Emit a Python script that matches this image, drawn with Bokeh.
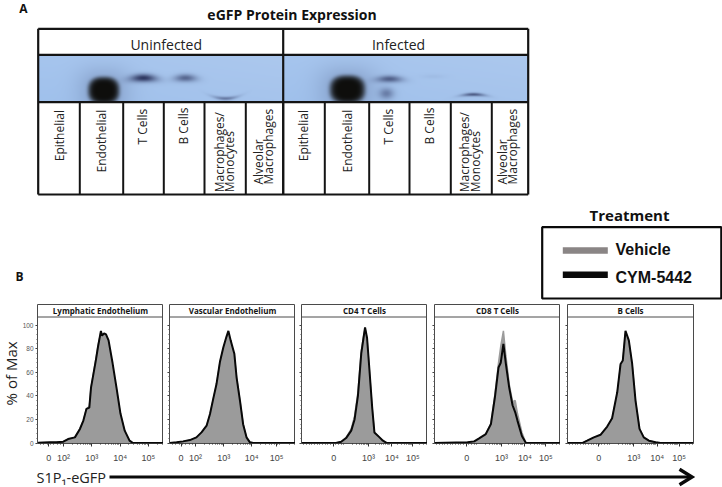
import numpy as np
from bokeh.core.properties import value
from bokeh.embed import file_html
from bokeh.layouts import column, row
from bokeh.models import FixedTicker, Range1d, Span
from bokeh.plotting import figure
from bokeh.resources import INLINE

# ---------------------------------------------------------------- panel A
CHART_TITLE = "eGFP Protein Expression"
GROUPS = ["Uninfected", "Infected"]
LANES = [["Epithelial"], ["Endothelial"], ["T Cells"], ["B Cells"],
         ["Macrophages/", "Monocytes"], ["Alveolar", "Macrophages"]]

# band: centre x, centre y, half width, half height, strength, sharpness, curve
BANDS = [
    (103.3, 90, 15.5, 13.5, 1.00, 7.0, 0.000),
    (143.0, 77.5, 15.5, 4.6, 0.88, 2.0, 0.004),
    (185.0, 77.5, 13.0, 4.4, 0.58, 2.0, 0.004),
    (225.0, 98.0, 14.0, 2.0, 0.48, 2.0, -0.012),
    (347.0, 89, 17.5, 14.0, 1.00, 7.0, 0.000),
    (389.0, 78.5, 15.0, 4.0, 0.62, 2.0, 0.003),
    (386.0, 93.0, 8.5, 6.5, 0.42, 2.0, 0.000),
    (433.0, 76.0, 14.0, 2.5, 0.05, 2.0, 0.000),
    (473.0, 94.0, 13.5, 1.9, 0.68, 2.0, 0.006),
]

# ---------------------------------------------------------------- panel B
PANEL_TITLES = ["Lymphatic Endothelium", "Vascular Endothelium", "CD4 T Cells", "CD8 T Cells", "B Cells"]
Y_TICKS = [0, 20, 40, 60, 80, 100]

LE_X = [1.10, 1.52, 1.75, 1.99, 2.16, 2.40, 2.58, 2.70, 2.81, 2.91, 2.97, 3.14, 3.22, 3.32, 3.36, 3.43, 3.50, 3.59, 3.73, 3.87, 4.01, 4.16, 4.33, 4.43, 5.53]
LE_CYM = [0.3, 0.6, 0.6, 1.1, 3.4, 4.8, 11.9, 19, 29, 30, 47, 70, 82, 95, 91, 93, 92, 87, 68, 47, 25, 10.5, 2, 0.3, 0]
LE_VEH = [0.3, 0.5, 0.6, 1.0, 3.2, 4.6, 12.5, 19, 29, 31, 47, 71, 83, 94, 91, 92, 91, 85, 64, 45, 24, 10, 2, 0.3, 0]

VE_X = [1.09, 1.33, 1.56, 1.80, 2.03, 2.21, 2.39, 2.51, 2.62, 2.74, 2.86, 2.98, 3.09, 3.16, 3.24, 3.37, 3.45, 3.57, 3.68, 3.80, 3.92, 4.04, 5.54]
VE_CYM = [0, 0.6, 1.4, 2.5, 4.8, 9, 14.7, 24.6, 37, 50, 68.6, 81, 90, 95, 87, 75.7, 55.5, 35.8, 16, 4.8, 0.6, 0, 0]
VE_VEH = [0, 0.5, 1.3, 2.4, 4.6, 8.8, 14.5, 24, 36.5, 49.5, 68, 80, 88, 92, 85, 74, 55, 35.5, 16, 4.5, 0.6, 0, 0]

CD4_X = [0, 1.55, 1.78, 2.00, 2.23, 2.38, 2.53, 2.68, 2.78, 2.85, 2.94, 3.05, 3.17, 3.27, 3.50, 3.65, 3.83, 5.65]
CD4_CYM = [0, 0, 1.1, 4.2, 10.5, 20, 40, 76, 89, 98, 89, 61, 30, 9, 4.8, 2, 0, 0]
CD4_VEH = [0, 0, 1.2, 4.6, 12, 23, 43, 78, 90, 97, 88, 60, 29, 9, 4.6, 2, 0, 0]

CD8_X = [0, 1.48, 1.78, 2.00, 2.30, 2.53, 2.71, 2.87, 2.97, 3.09, 3.20, 3.35, 3.50, 3.62, 3.72, 3.92, 4.10, 5.65]
CD8_CYM = [0, 0.6, 1.4, 4, 7.6, 16, 39, 64, 68, 84, 67, 47, 32, 26, 19, 6, 0, 0]
CD8_VEH = [0, 0.5, 1.2, 3.5, 7.4, 17, 41, 68, 82, 95, 74, 50, 35, 36, 25, 9, 0, 0]

B_X = [0, 0.66, 0.88, 1.18, 1.48, 1.78, 2.00, 2.23, 2.38, 2.48, 2.60, 2.75, 2.90, 3.05, 3.23, 3.42, 3.65, 3.95, 4.17, 5.65]
B_CYM = [0, 0, 2, 4.8, 7, 14, 21, 43, 67, 70, 95, 87, 67, 36, 12, 4.8, 2, 0.6, 0, 0]
B_VEH = [0, 0, 1.9, 4.6, 6.8, 13.5, 20.5, 42, 66, 69, 93, 86, 66, 35, 11.5, 4.6, 2, 0.6, 0, 0]

SERIES = [(LE_X, LE_VEH, LE_CYM), (VE_X, VE_VEH, VE_CYM), (CD4_X, CD4_VEH, CD4_CYM), (CD8_X, CD8_VEH, CD8_CYM), (B_X, B_VEH, B_CYM)]

X_RANGES = [(1.08, 5.53), (1.08, 5.53), (0, 5.65), (0, 5.65), (0, 5.65)]
X_TICKS = [
    {1.48: "0", 2: "10²", 3: "10³", 4: "10⁴", 5: "10⁵"},
    {1.49: "0", 2: "10²", 3: "10³", 3.98: "10⁴", 4.86: "10⁵"},
    {1.45: "0", 3: "10³", 4.05: "10⁴", 4.99: "10⁵"},
    {1.45: "0", 3: "10³", 4.05: "10⁴", 4.99: "10⁵"},
    {1.40: "0", 2.97: "10³", 4.02: "10⁴", 5: "10⁵"},
]

LEGEND_TITLE = "Treatment"
LEGEND_ITEMS = ["Vehicle", "CYM-5442"]
LEGEND_COLORS = ["#8a8585", "#0a0a0a"]

X_LABEL = "S1P₁-eGFP"
Y_LABEL = "% of Max"

INK = "#141414"
SANS = value("Open Sans")

# ---------------------------------------------------------------- top figure
top = figure(width=722, height=304, x_range=Range1d(0, 722), y_range=Range1d(304, 0),
             output_backend="svg", toolbar_location=None, min_border=0, outline_line_color=None)
top.axis.visible = False
top.grid.visible = False


def blot_image():
    xs = np.arange(38, 528) + 0.5
    ys = np.arange(55, 101) + 0.5
    xx, yy = np.meshgrid(xs, ys)
    rgb = np.zeros(xx.shape + (3,))
    rgb[..., 0] = 166 + 6 * ((xx - 38) % 245) / 245 - 6 * (yy - 55) / 46
    rgb[..., 1] = 197 + 3 * ((xx - 38) % 245) / 245 - 4 * (yy - 55) / 46
    rgb[..., 2] = 238 - 2 * (yy - 55) / 46
    dark = np.array([14, 14, 12.0])
    soft = np.array([30, 36, 78.0])
    for cx, cy, a, b, s, sharp, curve in BANDS:
        dx = xx - cx
        dy = yy - (cy + curve * dx * dx)
        if sharp > 2:
            r = (np.abs(dx / a) ** 2.5 + np.abs(dy / b) ** 2.5) ** (1 / 2.5)
            alpha = s * np.exp(-r ** sharp)
            halo = 0.25 * s * np.exp(-r ** 2 / 2.2)
            rgb = rgb * (1 - halo[..., None]) + soft * halo[..., None]
            rgb = rgb * (1 - alpha[..., None]) + dark * alpha[..., None]
        else:
            r2 = (dx / a) ** 2 + (dy / b) ** 2
            alpha = s * np.exp(-r2 * 1.4)
            rgb = rgb * (1 - alpha[..., None]) + soft * alpha[..., None]
    h, w = xx.shape
    img = np.zeros((h, w), dtype=np.uint32)
    view = img.view(dtype=np.uint8).reshape((h, w, 4))
    view[..., :3] = np.clip(rgb, 0, 255).astype(np.uint8)
    view[..., 3] = 255
    return img


top.image_rgba(image=[blot_image()], x=38, y=55, dw=490, dh=46)

# table rules
left_col = [37.7, 79.3, 122.7, 163.3, 204, 245.3, 282.7, 324.3, 368.7, 409, 450.3, 491.3, 527.7]
top.segment(x0=[37.7, 37.7, 37.7, 37.7], y0=[28.3, 54.3, 101.7, 194], x1=[527.7] * 4, y1=[28.3, 54.3, 101.7, 194],
            line_color=INK, line_width=2.2)
top.segment(x0=[37.7, 282.7, 527.7], y0=[28.3] * 3, x1=[37.7, 282.7, 527.7], y1=[194] * 3, line_color=INK, line_width=2.2)
top.segment(x0=left_col[1:-1], y0=[101.7] * 11, x1=left_col[1:-1], y1=[194] * 11, line_color=INK, line_width=2)

top.text(x=[291.5], y=[13.5], text=[CHART_TITLE], text_font=SANS, text_font_style="bold", text_font_size="14px",
         text_align="center", text_baseline="middle", text_color="#111111")
top.text(x=[23, 19], y=[7.5, 275.5], text=["A", "B"], text_font=SANS, text_font_style="bold", text_font_size="12px",
         text_align="center", text_baseline="middle", text_color="#111111")
top.text(x=[165.7, 398], y=[43.7, 43.7], text=GROUPS, text_font=SANS, text_font_size="14px",
         text_align="center", text_baseline="middle", text_color="#222222")

lane_x = [[58.7], [101], [141.7], [183], [219, 229], [258, 268],
          [303.3], [346.7], [387.7], [429], [464.3, 475], [501.7, 511.7]]
lane_y = [160.7, 172, 144, 144, 191.7, 184] * 2
for lines, xs, y0 in zip(LANES * 2, lane_x, lane_y):
    top.text(x=xs, y=[y0] * len(xs), text=lines, angle=np.pi / 2, text_font=SANS, text_font_size="12px",
             text_align="left", text_baseline="middle", text_color="#222222")

# legend
top.text(x=[629], y=[214.5], text=[LEGEND_TITLE], text_font=SANS, text_font_style="bold", text_font_size="15px",
         text_align="center", text_baseline="middle", text_color="#111111")
top.quad(left=[541.7], right=[720.8], top=[226.7], bottom=[298], fill_color=None, line_color="#0a0a0a", line_width=2.2)
top.segment(x0=[562.3, 562.3], y0=[250, 274.3], x1=[607.3, 607.3], y1=[250, 274.3],
            line_color=LEGEND_COLORS, line_width=6.5)
top.text(x=[615, 615], y=[248.5, 276.5], text=LEGEND_ITEMS, text_font=value("Liberation Sans"), text_font_style="bold",
         text_font_size="16px", text_align="left", text_baseline="middle", text_color="#111111")

# ---------------------------------------------------------------- y label strip
PX_PER_UNIT = 1.18
Y_MIN = -0.4
Y_MAX = 139 / PX_PER_UNIT - 0.4

strip = figure(width=21, height=163, x_range=Range1d(0, 21), y_range=Range1d(Y_MIN, Y_MAX),
               output_backend="svg", toolbar_location=None, min_border_left=0, min_border_right=0,
               min_border_top=0, min_border_bottom=24, outline_line_color=None)
strip.axis.visible = False
strip.grid.visible = False
strip.text(x=[10.5], y=[59], text=[Y_LABEL], angle=np.pi / 2, text_font=SANS, text_font_size="15px",
           text_color="#222222", text_align="center", text_baseline="middle")

# ---------------------------------------------------------------- histogram panels
LEFT_PAD = [19, 6, 6, 7, 7]
RIGHT_PAD = [0, 0, 0, 0, 29]
panels = [strip]
for i, title in enumerate(PANEL_TITLES):
    xs, veh, cym = SERIES[i]
    p = figure(width=LEFT_PAD[i] + 126 + RIGHT_PAD[i], height=163,
               x_range=Range1d(*X_RANGES[i]), y_range=Range1d(Y_MIN, Y_MAX),
               output_backend="svg", toolbar_location=None,
               min_border_left=LEFT_PAD[i], min_border_right=RIGHT_PAD[i], min_border_top=0, min_border_bottom=24,
               outline_line_color="#4a4a4a", outline_line_width=1,
               border_fill_color=None if i == 0 else "#ffffff")
    if i == 0:
        p.margin = (0, 0, 0, -3)
    p.grid.visible = False
    p.varea(x=xs, y1=[0] * len(xs), y2=veh, fill_color="#9b9b9b")
    p.line(x=xs, y=veh, line_color="#9b9b9b", line_width=1.5)
    p.line(x=xs, y=cym, line_color="#080808", line_width=2)

    p.add_layout(Span(location=106.8, dimension="width", line_color="#4a4a4a", line_width=1))
    mid = sum(X_RANGES[i]) / 2
    p.text(x=[mid], y=[112.3], text=[title], text_font=SANS, text_font_style="bold", text_font_size="8px",
           text_align="center", text_baseline="middle", text_color="#151515")

    ticks = list(X_TICKS[i])
    lo, hi = X_RANGES[i]
    minors = [n + np.log10(k) for n in range(2, 6) for k in range(2, 10) if lo < n + np.log10(k) < hi]
    minors += [t for t in np.arange(lo + 0.1, 2, 0.12)]
    p.xaxis.ticker = FixedTicker(ticks=ticks, minor_ticks=minors)
    p.xaxis.major_label_overrides = dict(X_TICKS[i])
    p.xaxis.major_label_text_font = "Liberation Sans"
    p.xaxis.major_label_text_font_size = "9px"
    p.xaxis.major_label_text_color = "#444444"
    p.xaxis.major_label_standoff = 6
    p.xaxis.axis_line_color = None
    p.xaxis.major_tick_line_color = "#333333"
    p.xaxis.minor_tick_line_color = "#333333"
    p.xaxis.major_tick_in = 0
    p.xaxis.major_tick_out = 3
    p.xaxis.minor_tick_in = 0
    p.xaxis.minor_tick_out = 1

    p.yaxis.ticker = FixedTicker(ticks=Y_TICKS, minor_ticks=list(range(0, 101, 4)))
    p.yaxis.axis_line_color = None
    p.yaxis.major_tick_line_color = "#333333"
    p.yaxis.minor_tick_line_color = "#555555"
    p.yaxis.major_tick_in = 0
    p.yaxis.major_tick_out = 2
    p.yaxis.minor_tick_in = 0
    p.yaxis.minor_tick_out = 1
    if i == 0:
        p.yaxis.major_label_text_font = "Liberation Sans"
        p.yaxis.major_label_text_font_size = "6.5px"
        p.yaxis.major_label_text_color = "#555555"
        p.yaxis.major_label_standoff = 2
    else:
        p.yaxis.major_label_overrides = {t: "" for t in Y_TICKS}
        p.yaxis.major_label_standoff = 0
    panels.append(p)

# ---------------------------------------------------------------- arrow strip
bottom = figure(width=722, height=20, x_range=Range1d(0, 722), y_range=Range1d(487, 467),
                output_backend="svg", toolbar_location=None, min_border=0, outline_line_color=None)
bottom.axis.visible = False
bottom.grid.visible = False
bottom.text(x=[36], y=[477], text=[X_LABEL], text_font=SANS, text_font_size="14.5px",
            text_align="left", text_baseline="middle", text_color="#222222")
bottom.segment(x0=[109], y0=[476.5], x1=[690], y1=[476.5], line_color="#0a0a0a", line_width=2.8)
bottom.line(x=[679, 691.5, 679], y=[468.8, 476.5, 484.2], line_color="#0a0a0a", line_width=3.4, line_join="miter")

page = column(top, row(*panels, spacing=0), bottom, spacing=0)
open("out.html", "w").write(file_html(page, INLINE))
